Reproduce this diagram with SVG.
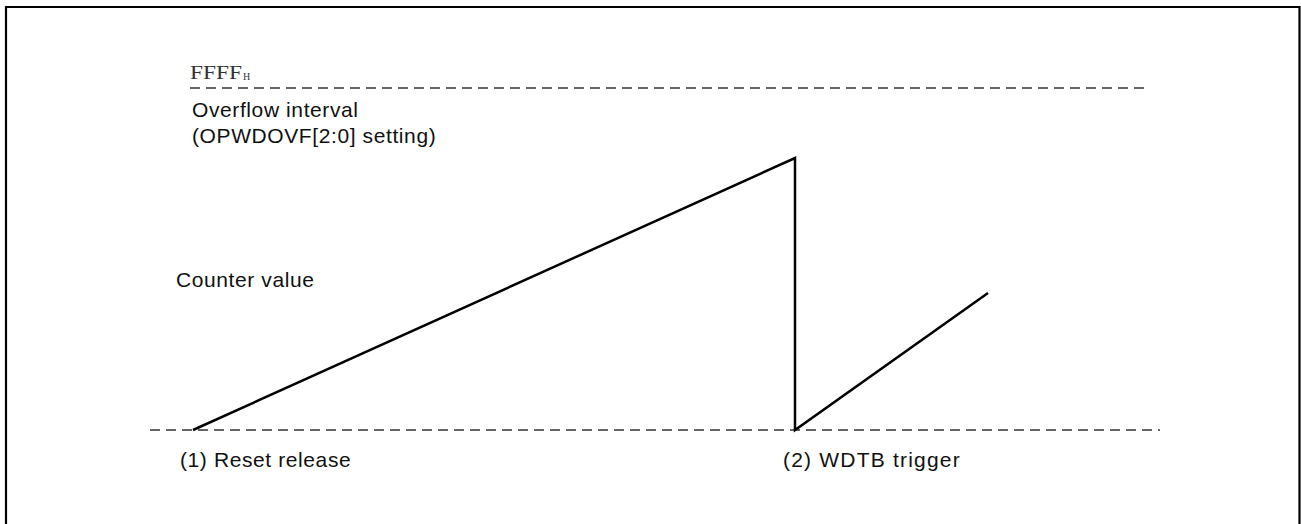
<svg xmlns="http://www.w3.org/2000/svg" width="1301" height="524" viewBox="0 0 1301 524">
<style>
.t{font-family:"Liberation Sans",Arial,sans-serif;font-size:21px;letter-spacing:0.6px;fill:#111}
.m{font-family:"Liberation Serif","Times New Roman",serif;fill:#333}
.d{fill:none;stroke:#333;stroke-width:1.4;stroke-dasharray:10 6}
.s{fill:none;stroke:#000;stroke-width:2.5;stroke-linejoin:miter}
</style>
<rect width="1301" height="524" fill="#fff"/>
<path d="M6,526 V7 H1299.5 V526" fill="none" stroke="#000" stroke-width="2.2"/>
<g id="connectors">
<line class="d" x1="190" y1="88" x2="1150" y2="88"/>
<line class="d" x1="150" y1="430" x2="1160" y2="430"/>
<polyline class="s" points="193,430 795,158 795,430 988,293"/>
</g>
<g id="labels">
<text class="m" x="190" y="79" font-size="19" textLength="52" lengthAdjust="spacingAndGlyphs">FFFF</text>
<text class="m" x="243" y="80" font-size="10">H</text>
<text class="t" x="192" y="117">Overflow interval</text>
<text class="t" x="192" y="143">(OPWDOVF[2:0] setting)</text>
<text class="t" x="176" y="287">Counter value</text>
<text class="t" x="180" y="467">(1) Reset release</text>
<text class="t" x="783" y="467" style="letter-spacing:1.2px">(2) WDTB trigger</text>
</g>
</svg>
